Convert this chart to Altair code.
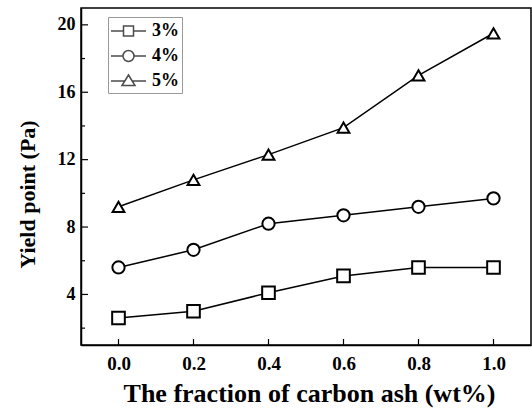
import altair as alt
import pandas as pd

fraction = [0.0, 0.2, 0.4, 0.6, 0.8, 1.0]
series_names = ["3%", "4%", "5%"]
yield_3 = [2.6, 3.0, 4.1, 5.1, 5.6, 5.6]
yield_4 = [5.6, 6.65, 8.2, 8.7, 9.2, 9.7]
yield_5 = [9.2, 10.8, 12.3, 13.9, 17.0, 19.5]
x_ticks = [0.0, 0.2, 0.4, 0.6, 0.8, 1.0]
y_major = [4, 8, 12, 16, 20]
y_minor = [2, 6, 10, 14, 18]

rows = []
for name, vals in zip(series_names, [yield_3, yield_4, yield_5]):
    for xv, yv in zip(fraction, vals):
        rows.append({"x": xv, "y": yv, "series": name})
df = pd.DataFrame(rows)

FONT = "Liberation Serif, Times New Roman, serif"
xscale = alt.Scale(domain=[-0.1, 1.1], nice=False, zero=False)
yscale = alt.Scale(domain=[1, 21], nice=False, zero=False)

xenc = alt.X("x:Q", scale=xscale, axis=alt.Axis(
    values=x_ticks, format=".1f", ticks=False, grid=False,
    domainColor="black", domainWidth=1.5,
    labelFont=FONT, labelFontWeight="bold", labelFontSize=19, labelColor="black",
    labelPadding=9,
    title="The fraction of carbon ash (wt%)", titleFont=FONT, titleFontWeight="bold",
    titleFontSize=26, titleColor="black", titleY=56, titleBaseline="alphabetic", titleX=228))
yenc = alt.Y("y:Q", scale=yscale, axis=alt.Axis(
    values=y_major, ticks=False, grid=False,
    domainColor="black", domainWidth=1.5,
    labelFont=FONT, labelFontWeight="bold", labelFontSize=18, labelColor="black",
    labelPadding=6,
    title="Yield point (Pa)", titleFont=FONT, titleFontWeight="bold",
    titleFontSize=22, titleColor="black", titleX=-54, titleY=186,
    titleBaseline="middle", titleAlign="center"))

shape_scale = alt.Scale(domain=series_names, range=["square", "circle", "triangle-up"])
size_scale = alt.Scale(domain=series_names, range=[160, 140, 290])

lines = alt.Chart(df).mark_line(color="black", strokeWidth=1.5).encode(
    x=xenc, y=yenc, detail="series:N")

points = alt.Chart(df).mark_point(filled=True, fill="white", stroke="black",
                                  strokeWidth=2, opacity=1).encode(
    x="x:Q", y="y:Q",
    shape=alt.Shape("series:N", scale=shape_scale, legend=None),
    size=alt.Size("series:N", scale=size_scale, legend=None))

# legend symbols: unit = 10 px (symbolSize 400 -> 20 px box); shape centred at +0.65
legend_paths = [
    "M-1.1,0H0.15M1.15,0H2.4M0.15,-0.5H1.15V0.5H0.15Z",
    "M-1.1,0H0.1M1.2,0H2.4M0.1,0A0.55,0.55 0 1,0 1.2,0A0.55,0.55 0 1,0 0.1,0",
    "M-1.1,0H0.3M1.0,0H2.4M0.65,-0.6L1.3,0.45L0,0.45Z",
]
legend_layer = alt.Chart(df).transform_filter("false").mark_point(
    filled=False, stroke="black", strokeWidth=1.5).encode(
    x="x:Q", y="y:Q",
    shape=alt.Shape("series:N",
                    scale=alt.Scale(domain=series_names, range=legend_paths),
                    legend=alt.Legend(
                        title=None, orient="none", legendX=27, legendY=9,
                        padding=3, strokeColor="#999999", fillColor="white",
                        symbolSize=400, symbolStrokeColor="black",
                        symbolStrokeWidth=1.5, symbolFillColor="transparent",
                        labelFont=FONT, labelFontWeight="bold", labelFontSize=18,
                        labelColor="black", labelOffset=19, rowPadding=5)))

xt = pd.DataFrame({"x": x_ticks})
xtick_layer = alt.Chart(xt).mark_rule(color="black", strokeWidth=1.2).encode(
    x="x:Q", y=alt.value(337), y2=alt.value(331))

yt_minor = alt.Chart(pd.DataFrame({"y": y_minor})).mark_rule(color="black", strokeWidth=1.2).encode(
    y="y:Q", x=alt.value(0), x2=alt.value(4))
yt_major = alt.Chart(pd.DataFrame({"y": y_major})).mark_rule(color="black", strokeWidth=1.2).encode(
    y="y:Q", x=alt.value(0), x2=alt.value(7))

chart = alt.layer(lines, points, legend_layer, xtick_layer, yt_major, yt_minor).resolve_scale(
    shape="independent", size="independent"
).properties(
    width=450, height=337,
    autosize=alt.AutoSizeParams(type="none"),
    padding={"left": 81, "top": 8, "right": 1, "bottom": 63},
    background="white",
).configure_view(stroke="black", strokeWidth=1.5)

chart.save("out.html", embed_options={"renderer": "svg", "actions": False})
